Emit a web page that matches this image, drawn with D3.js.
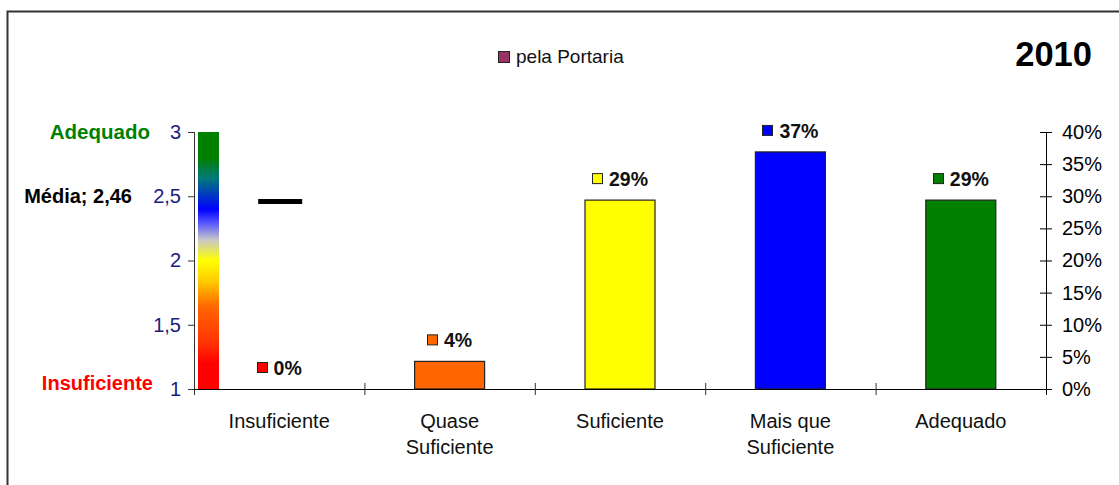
<!DOCTYPE html>
<html><head><meta charset="utf-8">
<script src="https://cdn.jsdelivr.net/npm/d3@7"></script>
<style>body{margin:0;background:#fff}svg{display:block;font-family:"Liberation Sans",Arial,sans-serif}</style>
</head><body><svg id="c" width="1119" height="485"></svg>
<script>
const categories = ["Insuficiente","Quase Suficiente","Suficiente","Mais que Suficiente","Adequado"];
const categoryLines = [["Insuficiente"],["Quase","Suficiente"],["Suficiente"],["Mais que","Suficiente"],["Adequado"]];
const percentValues = [0, 4.3, 29.4, 36.9, 29.4];
const percentLabels = ["0%","4%","29%","37%","29%"];
const barColors = ["#ff0000","#ff6600","#ffff00","#0000ff","#008000"];
const meanValue = 2.46;
const meanLabel = "Média; 2,46";
const leftTicks = [1,1.5,2,2.5,3];
const leftTickLabels = ["1","1,5","2","2,5","3"];
const rightTicks = [0,5,10,15,20,25,30,35,40];
const legendLabel = "pela Portaria";
const title = "2010";

const svg = d3.select("#c");
const X0 = 194, X1 = 1046, Y0 = 389, Y1 = 132;
const x = d3.scaleBand().domain(categories).range([X0, X1]);
const yL = d3.scaleLinear().domain([1,3]).range([Y0, Y1]);
const yR = d3.scaleLinear().domain([0,40]).range([Y0, Y1]);

// frame
svg.append("path").attr("d","M7.5,485 V11.5 H1119").attr("fill","none").attr("stroke","#333").attr("stroke-width",2);

// gradient
const defs = svg.append("defs");
const g = defs.append("linearGradient").attr("id","grad").attr("x1",0).attr("y1",0).attr("x2",0).attr("y2",1);
[[0,"#008000"],[0.1,"#008000"],[0.18,"#007a7a"],[0.3,"#0000ff"],[0.35,"#5050ff"],[0.42,"#c8c8c8"],[0.5,"#ffff00"],[0.58,"#ffcc00"],[0.68,"#ff6600"],[0.82,"#ff3300"],[0.9,"#ff0000"],[1,"#ff0000"]]
  .forEach(([o,c])=>g.append("stop").attr("offset",o).attr("stop-color",c));
svg.append("rect").attr("x",198).attr("y",yL(3)).attr("width",21).attr("height",yL(1)-yL(3)).attr("fill","url(#grad)");

// bars
svg.selectAll(".bar").data(categories).enter().append("rect")
  .attr("x",d=>x(d)+x.bandwidth()/2-35).attr("width",70)
  .attr("y",(d,i)=>yR(percentValues[i])).attr("height",(d,i)=>Y0-yR(percentValues[i]))
  .attr("fill",(d,i)=>barColors[i]).attr("stroke","#222").attr("stroke-width",1.2)
  .style("display",(d,i)=>percentValues[i]>0?null:"none");

// mean line
svg.append("line").attr("x1",x(categories[0])+x.bandwidth()/2-21).attr("x2",x(categories[0])+x.bandwidth()/2+23)
  .attr("y1",yL(meanValue)).attr("y2",yL(meanValue)).attr("stroke","#000").attr("stroke-width",5);

// left axis
const axL = svg.append("g").attr("transform",`translate(${X0},0)`)
  .call(d3.axisLeft(yL).tickValues(leftTicks).tickFormat((d,i)=>leftTickLabels[i]).tickSize(6).tickPadding(7));
axL.select(".domain").attr("stroke","#333").attr("d",`M0.5,${Y1}V${Y0+6}`);
axL.selectAll("text").attr("fill","#1c1c80").style("font-size","20px").style("font-family","Liberation Sans, Arial");
axL.selectAll("line").attr("stroke","#333");

// right axis
const axR = svg.append("g").attr("transform",`translate(${X1},0)`)
  .call(d3.axisRight(yR).tickValues(rightTicks).tickFormat(d=>d+"%").tickSize(6).tickPadding(10));
axR.select(".domain").attr("stroke","#000").attr("d",`M0.5,${Y1}V${Y0+6}`);
axR.selectAll(".tick line").attr("x1",-6).attr("stroke","#000");
axR.selectAll("text").attr("fill","#000").style("font-size","20px").style("font-family","Liberation Sans, Arial");

// bottom axis
svg.append("line").attr("x1",X0).attr("x2",X1).attr("y1",Y0+0.5).attr("y2",Y0+0.5).attr("stroke","#000");
svg.selectAll(".xt").data(categories.slice(1)).enter().append("line")
  .attr("x1",d=>x(d)+0.5).attr("x2",d=>x(d)+0.5).attr("y1",Y0-6).attr("y2",Y0+6).attr("stroke","#333");
const cl = svg.selectAll(".cl").data(categories).enter().append("text")
  .attr("text-anchor","middle").style("font-size","20px").attr("fill","#111");
cl.each(function(d,i){
  const t = d3.select(this);
  categoryLines[i].forEach((s,j)=>t.append("tspan").attr("x",x(d)+x.bandwidth()/2).attr("y",428+j*26).text(s));
});

// value labels (square + text, centered as a group)
categories.forEach((d,i)=>{
  const cx = x(d)+x.bandwidth()/2;
  const ty = yR(percentValues[i]);
  const t = svg.append("text").attr("y",ty-14)
    .style("font-size","19.5px").style("font-weight","bold").attr("fill","#111").text(percentLabels[i]);
  const w = t.node().getComputedTextLength();
  const total = 10 + 7 + w;
  const sx = cx - total/2;
  t.attr("x", sx + 17);
  svg.append("rect").attr("x",Math.round(sx)+0.5).attr("y",ty-26.5).attr("width",10).attr("height",10)
    .attr("fill",barColors[i]).attr("stroke","#222");
});

// left labels
svg.append("text").attr("x",150).attr("y",yL(3)+7).attr("text-anchor","end").style("font-size","20.5px").style("font-weight","bold").attr("fill","#008000").text("Adequado");
svg.append("text").attr("x",132).attr("y",yL(2.5)+7).attr("text-anchor","end").style("font-size","20px").style("font-weight","bold").attr("fill","#000").text(meanLabel);
svg.append("text").attr("x",153).attr("y",yL(1)+1).attr("text-anchor","end").style("font-size","20px").style("font-weight","bold").attr("fill","#ff0000").text("Insuficiente");

// legend
svg.append("rect").attr("x",498.5).attr("y",51.5).attr("width",11).attr("height",11).attr("fill","#993366").attr("stroke","#222");
svg.append("text").attr("x",516).attr("y",63).style("font-size","19px").attr("fill","#111").text(legendLabel);

// title
svg.append("text").attr("x",1092).attr("y",66).attr("text-anchor","end").style("font-size","34.5px").style("font-weight","bold").attr("fill","#000").text(title);
</script></body></html>
